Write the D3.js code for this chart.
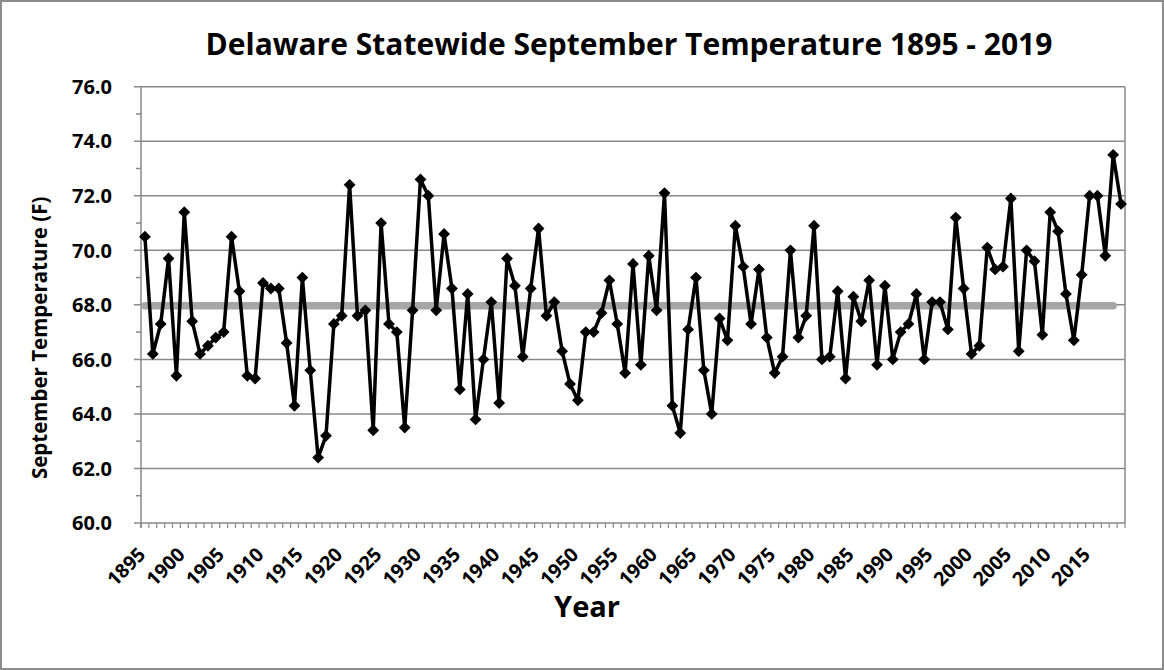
<!DOCTYPE html>
<html>
<head>
<meta charset="utf-8">
<script src="https://cdn.jsdelivr.net/npm/d3@7"></script>
<style>
  html, body { margin: 0; padding: 0; background: #fff; }
  svg { display: block; }
  text { font-family: "Open Sans", "Lato", sans-serif; font-weight: bold; fill: #000; }
</style>
</head>
<body>
<svg id="chart" width="1164" height="670"></svg>
<script>
// ---- data ----
const firstYear = 1895;
const lastYear = 2019;
const temps = [
  70.5, 66.2, 67.3, 69.7, 65.4,
  71.4, 67.4, 66.2, 66.5, 66.8, 67.0, 70.5, 68.5, 65.4, 65.3,
  68.8, 68.6, 68.6, 66.6, 64.3, 69.0, 65.6, 62.4, 63.2, 67.3,
  67.6, 72.4, 67.6, 67.8, 63.4, 71.0, 67.3, 67.0, 63.5, 67.8,
  72.6, 72.0, 67.8, 70.6, 68.6, 64.9, 68.4, 63.8, 66.0, 68.1,
  64.4, 69.7, 68.7, 66.1, 68.6, 70.8, 67.6, 68.1, 66.3, 65.1,
  64.5, 67.0, 67.0, 67.7, 68.9, 67.3, 65.5, 69.5, 65.8, 69.8,
  67.8, 72.1, 64.3, 63.3, 67.1, 69.0, 65.6, 64.0, 67.5, 66.7,
  70.9, 69.4, 67.3, 69.3, 66.8, 65.5, 66.1, 70.0, 66.8, 67.6,
  70.9, 66.0, 66.1, 68.5, 65.3, 68.3, 67.4, 68.9, 65.8, 68.7,
  66.0, 67.0, 67.3, 68.4, 66.0, 68.1, 68.1, 67.1, 71.2, 68.6,
  66.2, 66.5, 70.1, 69.3, 69.4, 71.9, 66.3, 70.0, 69.6, 66.9,
  71.4, 70.7, 68.4, 66.7, 69.1, 72.0, 72.0, 69.8, 73.5, 71.7
];
const meanTemp = 67.97;
const meanYears = [1895, 2018];
const xTickLabels = ["1895","1900","1905","1910","1915","1920","1925","1930","1935","1940","1945","1950","1955","1960","1965","1970","1975","1980","1985","1990","1995","2000","2005","2010","2015"];
const yTicks = [60, 62, 64, 66, 68, 70, 72, 74, 76];
const yMinorTicks = [61, 63, 65, 67, 69, 71, 73, 75];
const titleText = "Delaware Statewide September Temperature 1895 - 2019";
const yTitle = "September Temperature (F)";
const xTitle = "Year";

// ---- drawing ----
const years = d3.range(firstYear, lastYear + 1);
const data = years.map((y, i) => ({ year: y, value: temps[i] }));

const svg = d3.select("#chart");
const W = 1164, H = 670;
const plot = { left: 141, right: 1125, top: 86.7, bottom: 523 };
const gridColor = "#898989";

// outer frame
svg.append("rect").attr("x", 1).attr("y", 1).attr("width", W - 2).attr("height", H - 2)
  .attr("fill", "#fff").attr("stroke", "#8c8c8c").attr("stroke-width", 2);

const x = d3.scaleBand().domain(years).range([plot.left, plot.right]).padding(0);
const y = d3.scaleLinear().domain([60, 76]).range([plot.bottom, plot.top]);
const cx = yr => x(yr) + x.bandwidth() / 2;

// gridlines (with outward major ticks)
svg.append("g").selectAll("line").data(yTicks.filter(v => v > 60)).join("line")
  .attr("x1", plot.left - 7).attr("x2", plot.right)
  .attr("y1", d => y(d)).attr("y2", d => y(d))
  .attr("stroke", gridColor).attr("stroke-width", 1.5);

// minor y ticks
svg.append("g").selectAll("line").data(yMinorTicks).join("line")
  .attr("x1", plot.left - 5).attr("x2", plot.left)
  .attr("y1", d => y(d)).attr("y2", d => y(d))
  .attr("stroke", gridColor).attr("stroke-width", 1.5);

// right border
svg.append("line").attr("x1", plot.right).attr("x2", plot.right)
  .attr("y1", plot.top).attr("y2", plot.bottom)
  .attr("stroke", gridColor).attr("stroke-width", 1.5);

// y axis line
svg.append("line").attr("x1", plot.left).attr("x2", plot.left)
  .attr("y1", plot.top).attr("y2", plot.bottom + 5)
  .attr("stroke", gridColor).attr("stroke-width", 1.5);

// x axis
svg.append("line").attr("x1", plot.left - 7).attr("x2", plot.right)
  .attr("y1", plot.bottom).attr("y2", plot.bottom)
  .attr("stroke", gridColor).attr("stroke-width", 1.5);
// category boundary ticks
svg.append("g").selectAll("line").data(years.concat([lastYear + 1])).join("line")
  .attr("x1", d => d <= lastYear ? x(d) : plot.right)
  .attr("x2", d => d <= lastYear ? x(d) : plot.right)
  .attr("y1", plot.bottom).attr("y2", plot.bottom + 5)
  .attr("stroke", gridColor).attr("stroke-width", 1.2);

// x tick labels
svg.append("g").selectAll("text").data(xTickLabels).join("text")
  .attr("transform", d => `translate(${cx(+d) - 3},${plot.bottom + 28}) rotate(-45)`)
  .attr("text-anchor", "end").attr("dy", "0.35em")
  .style("font-size", "19.5px")
  .text(d => d);

// y tick labels
svg.append("g").selectAll("text").data(yTicks).join("text")
  .attr("x", 112).attr("y", d => y(d)).attr("dy", "0.36em")
  .attr("text-anchor", "end")
  .style("font-size", "20px")
  .text(d => d3.format(".1f")(d));

// mean line
svg.append("line")
  .attr("x1", cx(meanYears[0])).attr("x2", cx(meanYears[1]))
  .attr("y1", y(meanTemp)).attr("y2", y(meanTemp))
  .attr("stroke", "#a6a6a6").attr("stroke-width", 7.5).attr("stroke-linecap", "round");

// data line
const line = d3.line().x(d => cx(d.year)).y(d => y(d.value));
svg.append("path").datum(data).attr("d", line)
  .attr("fill", "none").attr("stroke", "#000").attr("stroke-width", 3.5).attr("stroke-linejoin", "round");

// markers (diamonds)
const sym = d3.symbol().type(d3.symbolSquare).size(70);
svg.append("g").selectAll("path").data(data).join("path")
  .attr("d", sym)
  .attr("transform", d => `translate(${cx(d.year)},${y(d.value)}) rotate(45)`)
  .attr("fill", "#000");

// titles
svg.append("text").attr("x", 629).attr("y", 44).attr("dy", "0.35em")
  .attr("text-anchor", "middle").style("font-size", "30px").text(titleText);

svg.append("text").attr("transform", `translate(40,${(plot.top + plot.bottom) / 2 + 33}) rotate(-90)`)
  .attr("text-anchor", "middle").attr("dy", "0.35em").style("font-size", "20.5px").text(yTitle);

svg.append("text").attr("x", 587).attr("y", 607).attr("dy", "0.35em")
  .attr("text-anchor", "middle").style("font-size", "29px").text(xTitle);
</script>
</body>
</html>
